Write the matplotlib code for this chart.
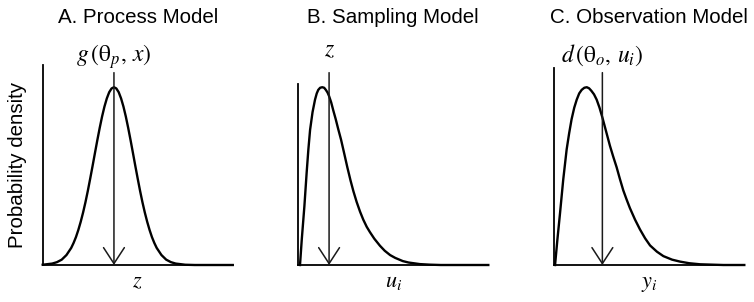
import numpy as np
import matplotlib.pyplot as plt

# ---- values (x on a 0-10 scale, density scaled so the peak = 1) ----
# A. process model: symmetric bell centred under the arrow
proc_x = [0.0, 0.5, 0.75, 1.0, 1.25, 1.5, 1.625, 1.75, 1.875, 2.0, 2.125, 2.25, 2.375, 2.5,
          2.625, 2.75, 2.875, 3.0, 3.125, 3.25, 3.375, 3.5, 3.625, 3.75,
          3.875, 4.0, 4.125, 4.25, 4.375, 4.5, 4.625, 4.75, 4.875, 5.0, 5.125, 5.25,
          5.375, 5.5, 5.625, 5.75, 5.875, 6.0, 6.25, 6.5, 6.75, 7.0, 7.5, 8.0, 10.0]
proc_y = [0.0015, 0.008, 0.016, 0.030, 0.056, 0.096, 0.124, 0.157, 0.197, 0.243, 0.295, 0.353, 0.417, 0.486,
          0.557, 0.630, 0.702, 0.771, 0.835, 0.891, 0.937, 0.972, 0.993, 1.0,
          0.993, 0.972, 0.937, 0.891, 0.835, 0.771, 0.702, 0.630, 0.557, 0.486, 0.417, 0.353,
          0.295, 0.243, 0.197, 0.157, 0.124, 0.096, 0.056, 0.030, 0.016, 0.008, 0.0015, 0.0, 0.0]

# B. sampling model: right skewed, peak close to the y axis
samp_x = [0.09, 0.18, 0.32, 0.44, 0.53, 0.62, 0.75, 0.88, 0.97, 1.05, 1.15, 1.26, 1.36, 1.45,
          1.54, 1.62, 1.73, 1.84, 1.97, 2.1, 2.25, 2.4, 2.58, 2.75, 2.9, 3.07, 3.25,
          3.42, 3.6, 3.77, 4.0, 4.3, 4.55, 4.83, 5.1, 5.5, 5.8, 6.4, 6.9, 7.5, 10.0]
samp_y = [0.0, 0.14, 0.33, 0.52, 0.65, 0.76, 0.86, 0.93, 0.965, 0.985, 0.997, 1.0, 0.997, 0.985,
          0.97, 0.95, 0.915, 0.87, 0.82, 0.765, 0.705, 0.635, 0.55, 0.475, 0.415, 0.355, 0.30,
          0.255, 0.215, 0.185, 0.148, 0.108, 0.08, 0.056, 0.04, 0.022, 0.014, 0.005, 0.002, 0.0, 0.0]

# C. observation model: right skewed, a bit wider than B
obs_x = [0.04, 0.16, 0.30, 0.47, 0.65, 0.78, 0.91, 1.05, 1.18, 1.31, 1.44, 1.58, 1.71, 1.83,
         1.95, 2.09, 2.23, 2.38, 2.53, 2.73, 2.93, 3.1, 3.28, 3.45, 3.63, 3.8, 3.98,
         4.25, 4.51, 4.78, 5.04, 5.4, 5.74, 6.2, 6.62, 7.1, 7.67, 8.9, 10.0]
obs_y = [0.0, 0.14, 0.29, 0.48, 0.65, 0.74, 0.82, 0.885, 0.93, 0.965, 0.985, 0.997, 1.0, 0.994,
         0.98, 0.96, 0.93, 0.885, 0.83, 0.75, 0.67, 0.61, 0.55, 0.485, 0.42, 0.37, 0.32,
         0.255, 0.20, 0.15, 0.11, 0.075, 0.05, 0.03, 0.019, 0.01, 0.004, 0.0, 0.0]

arrow_x = [3.75, 1.62, 2.53]   # where the vertical arrow points on each x axis

titles = ['A. Process Model', 'B. Sampling Model', 'C. Observation Model']
top_labels = [r'$g\,\left(\mathrm{\theta}_p,\, x\right)$', r'$z$',
              r'$d\,\left(\mathrm{\theta}_o,\, u_i\right)$']
x_labels = [r'$z$', r'$u_i$', r'$y_i$']
y_label = 'Probability density'

# ---- styling ----
plt.rcParams['font.family'] = ['Liberation Sans', 'DejaVu Sans']
plt.rcParams['mathtext.fontset'] = 'stix'

fig = plt.figure(figsize=(7.54, 3.02), dpi=100)

lefts = [42.7 / 754, 298.3 / 754, 554.3 / 754]   # axes left edges (figure fraction)
spine_tops = [1.125, 1.019, 1.109]               # the y axis lines have different heights
label_y = [1.144, 1.172, 1.144]                  # baseline of the label over each arrow
curves = [(proc_x, proc_y), (samp_x, samp_y), (obs_x, obs_y)]

for i, (cx, cy) in enumerate(curves):
    ax = fig.add_axes([lefts[i], 37 / 302, 190 / 754, 200 / 302])
    ax.set_xlim(0, 10)
    ax.set_ylim(0, 1.125)

    # density curve
    ax.plot(cx, cy, color='black', lw=1.7, solid_joinstyle='round', clip_on=False)

    # vertical arrow with an open head
    ax.annotate('', xy=(arrow_x[i], 0), xytext=(arrow_x[i], 1.082),
                arrowprops=dict(arrowstyle='->,head_length=1.15,head_width=0.75',
                                color='#1a1a1a', lw=1.1, shrinkA=0, shrinkB=0,
                                mutation_scale=10),
                annotation_clip=False)
    ax.text(arrow_x[i], label_y[i], top_labels[i], ha='center', va='baseline', fontsize=17)

    # only left and bottom axis lines, no ticks
    for side in ['top', 'right']:
        ax.spines[side].set_visible(False)
    for side in ['left', 'bottom']:
        ax.spines[side].set_linewidth(1.3)
    ax.spines['left'].set_bounds(0, spine_tops[i])
    ax.set_xticks([])
    ax.set_yticks([])

    ax.set_title(titles[i], fontsize=14.8, pad=30)
    ax.text(0.5, -0.11, x_labels[i], transform=ax.transAxes, ha='center', va='baseline',
            fontsize=16)

    if i == 0:
        ax.text(-0.133, 0.5, y_label, transform=ax.transAxes, rotation=90,
                ha='center', va='center', fontsize=14.8)

fig.savefig('out.png', dpi=100)
